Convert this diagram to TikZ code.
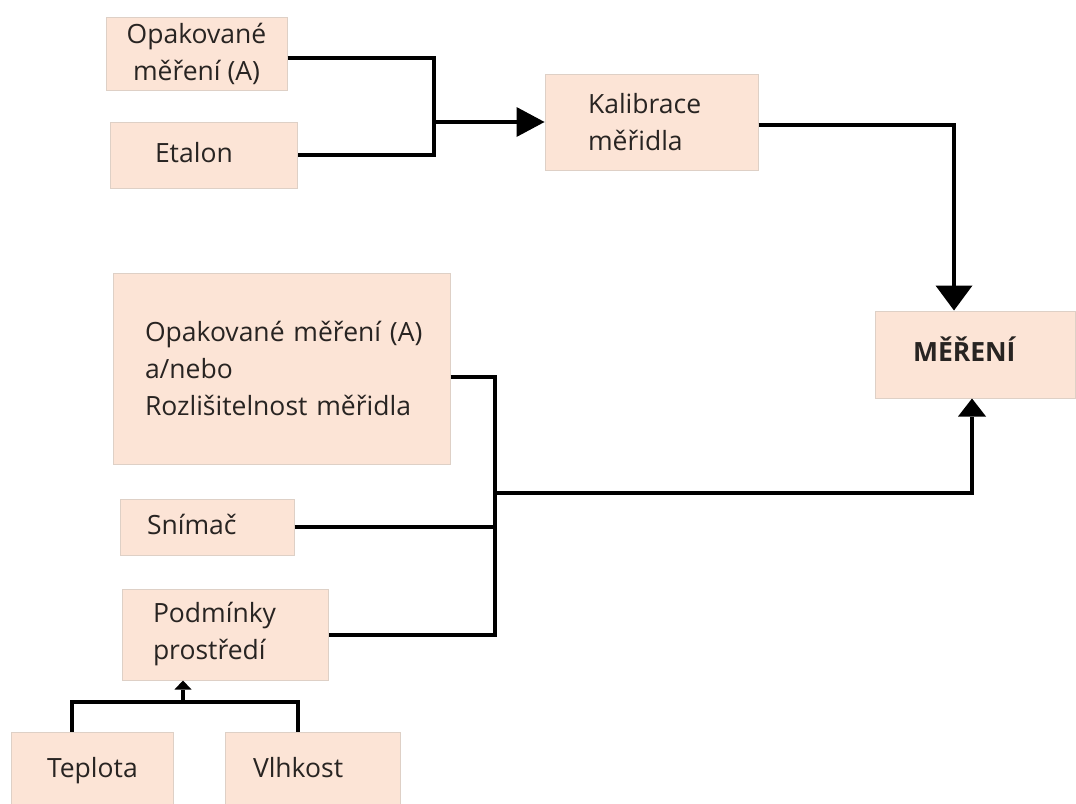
\documentclass[tikz,border=0pt]{standalone}
\usepackage{fontspec}
\setmainfont{Open Sans}
\usetikzlibrary{arrows.meta}
\definecolor{boxfill}{RGB}{252,228,214}
\definecolor{boxline}{RGB}{222,208,198}
\definecolor{txt}{RGB}{40,36,34}
\tikzset{
  box/.style={draw=boxline, fill=boxfill, line width=1pt, rectangle, inner ysep=0pt,
    text=txt, font=\fontsize{26.5}{37}\selectfont},
  conn/.style={line width=4pt, black},
  tipA/.style={-{Triangle[length=28pt,width=30pt,line width=0pt]}},
  tipB/.style={-{Triangle[length=25pt,width=37pt,line width=0pt]}},
  tipC/.style={-{Triangle[length=18pt,width=28pt,line width=0pt]}},
  tipD/.style={-{Triangle[length=9pt,width=17pt,line width=0pt]}},
}
\begin{document}
\begin{tikzpicture}[x=1pt,y=-1pt]
\useasboundingbox[fill=white] (0,0) rectangle (1076,803);

\node[box, minimum width=181pt, minimum height=73pt, align=center, inner xsep=0pt]
  (opak) at (196.5,53.5) {Opakované\\měření (A)};
\node[box, minimum width=187pt, minimum height=66pt, text width=97pt, inner xsep=0pt, align=left]
  (etalon) at (203.5,155) {\strut Etalon};
\node[box, minimum width=213pt, minimum height=96pt, text width=127pt, inner xsep=0pt, align=left]
  (kal) at (651.5,122) {Kalibrace\\měřidla};
\node[box, minimum width=200pt, minimum height=87pt, text width=124pt, inner xsep=0pt, align=left, font=\fontsize{26.5}{37}\selectfont\bfseries]
  (mer) at (975,354.5) {\strut MĚŘENÍ};
\node[box, minimum width=337pt, minimum height=191pt, text width=273pt, inner xsep=0pt, align=left]
  (big) at (281.5,368.5) {Opakované~měření~(A)\\a/nebo\\Rozlišitelnost~měřidla};
\node[box, minimum width=174pt, minimum height=56pt, text width=120pt, inner xsep=0pt, align=left]
  (sni) at (207,527) {\strut Snímač};
\node[box, minimum width=206pt, minimum height=91pt, text width=144pt, inner xsep=0pt, align=left]
  (pod) at (225,634.5) {Podmínky\\prostředí};
\node[box, minimum width=162pt, minimum height=76pt, text width=90pt, inner xsep=0pt, align=left]
  (tep) at (92,770) {\strut Teplota};
\node[box, minimum width=175pt, minimum height=76pt, text width=119pt, inner xsep=0pt, align=left]
  (vlh) at (312.5,770) {\strut Vlhkost};

\coordinate (j1) at (434,122);
\coordinate (jx) at (495,493);
\coordinate (jt) at (183,702);

\draw[conn] ([yshift=-4pt]opak.east) -| (j1) |- (etalon.east);
\draw[conn, tipA] (j1) -- (kal.west);
\draw[conn, tipB] ([yshift=-3pt]kal.east) -| ([xshift=-21pt]mer.north);

\draw[conn] ([yshift=-8pt]big.east) -| (jx |- pod.east) -- (pod.east);
\draw[conn] (sni.east) -- (jx |- sni.east);
\draw[conn, tipC] (jx) -| ([xshift=-3pt]mer.south);

\draw[conn] ([xshift=-20pt]tep.north) |- (jt) -| ([xshift=-15pt]vlh.north);
\draw[conn, tipD] (jt) -- (jt |- pod.south);
\end{tikzpicture}
\end{document}
